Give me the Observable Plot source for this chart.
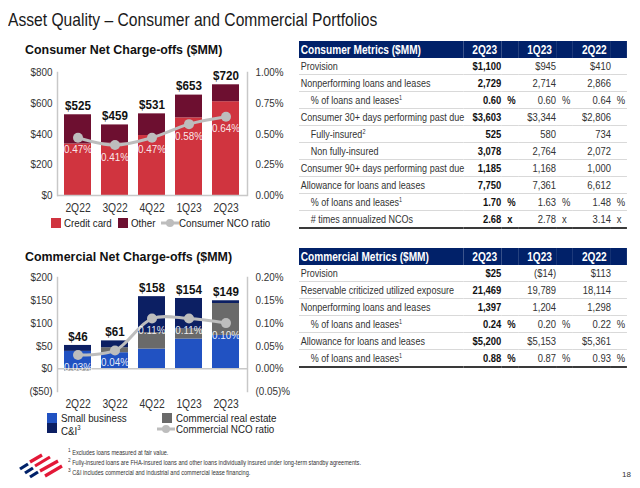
<!DOCTYPE html>
<html><head><meta charset="utf-8">
<script src="https://cdn.jsdelivr.net/npm/d3@7"></script>
<script src="https://cdn.jsdelivr.net/npm/@observablehq/plot@0.6"></script>
<style>
body{margin:0;width:640px;height:488px;position:relative;background:#fff;overflow:hidden;
 font-family:"Liberation Sans",Arial,sans-serif;color:#222}
.abs{position:absolute;white-space:nowrap}
.nar{transform:scaleX(0.85);transform-origin:left center}
.ctitle{font-weight:bold;font-size:13.5px;color:#111}
.leg{font-size:11.5px;color:#222;line-height:12px}
.sw{position:absolute;width:10px;height:10px}
.tbl{position:absolute;left:299px;width:389px;border-collapse:collapse;table-layout:fixed;font-size:11.2px;color:#333;
 transform:scaleX(0.843);transform-origin:left top}
.tbl td{padding:0;height:16px;border-bottom:1px solid #d9d9d9;white-space:nowrap;vertical-align:middle;overflow:visible}
.tbl tr.hd td{background:#012169;color:#fff;font-weight:bold;font-size:12px;height:17px;border-bottom:none}
.tbl tr.last td{border-bottom:2px solid #3a3a3a}
.tbl .lab{padding-left:2px;font-size:10.7px}
.tbl .sub{padding-left:14px;font-size:10.7px}
.tbl tr.hd td.lab{font-size:12px}
.tbl .v{text-align:right}
.tbl .hv{text-align:right;padding-right:5px}
.tbl .u{padding-left:7px}
.tbl .b{font-weight:bold;color:#111}
.tbl sup{font-size:6.5px;vertical-align:top;line-height:8px}
.fn{font-size:6.6px;color:#333;line-height:6.7px}
</style></head><body>
<div class="abs nar" style="left:8px;top:9px;font-size:18.5px;color:#1a1a1a;transform:scaleX(0.845)">Asset Quality – Consumer and Commercial Portfolios</div>

<div class="abs ctitle nar" style="left:25px;top:42px;transform:scaleX(0.92)">Consumer Net Charge-offs ($MM)</div>
<div class="abs ctitle nar" style="left:25px;top:249px;transform:scaleX(0.92)">Commercial Net Charge-offs ($MM)</div>

<div id="consumer" class="abs" style="left:0;top:62px"></div>
<div id="commercial" class="abs" style="left:0;top:262px"></div>

<div id="legend1"></div>
<div id="legend2"></div>

<table id="ctable" class="tbl" style="top:41px"></table>
<table id="mtable" class="tbl" style="top:248px"></table>

<svg class="abs" style="left:16px;top:453px" width="50" height="30" viewBox="0 0 50 30">
 <g stroke-linecap="butt" stroke-width="3.2" fill="none">
  <path d="M4 16 L12 11" stroke="#012169"/>
  <path d="M9 20 L17 15" stroke="#012169"/>
  <path d="M14 24 L22 19" stroke="#012169"/>
  <path d="M14 9 L26 2" stroke="#e31837"/>
  <path d="M19 13 L34 4" stroke="#e31837"/>
  <path d="M24 18 L42 8" stroke="#e31837"/>
  <path d="M29 23 L46 13" stroke="#e31837"/>
 </g>
</svg>
<div class="abs fn nar" style="left:68px;top:447px">
<div><sup>1</sup> Excludes loans measured at fair value.</div>
<div><sup>2</sup> Fully-insured loans are FHA-insured loans and other loans individually insured under long-term standby agreements.</div>
<div><sup>3</sup> C&amp;I includes commercial and industrial and commercial lease financing.</div>
</div>
<div class="abs" style="left:622px;top:470px;font-size:8px;color:#333">18</div>

<script>
// ---------- Chart data ----------
const quarters = ["2Q22","3Q22","4Q22","1Q23","2Q23"];

const creditCard = [335, 340, 390, 505, 610];
const consumerOther = [190, 119, 141, 148, 110];
const consumerRatio = [0.47, 0.41, 0.47, 0.58, 0.64];
const consumerSeries = ["Credit card", "Other"];
const consumerTicks = [0, 200, 400, 600, 800];

const smallBusiness = [38, 35, 43, 65, 73];
const commercialRealEstate = [-5, 11, 36, 22, 70];
const cAndI = [13, 15, 79, 67, 6];
const commercialRatio = [0.03, 0.04, 0.11, 0.11, 0.10];
const commercialSeries = ["Small business", "Commercial real estate", "C&I"];
const commercialTicks = [-50, 0, 50, 100, 150, 200];

// ---------- Table data ----------
const consumerMetricLabels = ["Provision","Nonperforming loans and leases","% of loans and leases","Consumer 30+ days performing past due","Fully-insured","Non fully-insured","Consumer 90+ days performing past due","Allowance for loans and leases","% of loans and leases","# times annualized NCOs"];
const consumerMetricNotes = [0,0,1,0,2,0,0,0,1,0];
const consumerMetricSub = [0,0,1,0,1,1,0,0,1,1];
const consumer2Q23 = ["$1,100","2,729","0.60","$3,603","525","3,078","1,185","7,750","1.70","2.68"];
const consumer1Q23 = ["$945","2,714","0.60","$3,344","580","2,764","1,168","7,361","1.63","2.78"];
const consumer2Q22 = ["$410","2,866","0.64","$2,806","734","2,072","1,000","6,612","1.48","3.14"];
const consumerUnits = ["","","%","","","","","","%","x"];

const commercialMetricLabels = ["Provision","Reservable criticized utilized exposure","Nonperforming loans and leases","% of loans and leases","Allowance for loans and leases","% of loans and leases"];
const commercialMetricNotes = [0,0,0,1,0,1];
const commercialMetricSub = [0,0,0,1,0,1];
const commercial2Q23 = ["$25","21,469","1,397","0.24","$5,200","0.88"];
const commercial1Q23 = ["($14)","19,789","1,204","0.20","$5,153","0.87"];
const commercial2Q22 = ["$113","18,114","1,298","0.22","$5,361","0.93"];
const commercialUnits = ["","","","%","","%"];
const tableColumns = ["2Q23","1Q23","2Q22"];

const FONT = '"Liberation Sans",Arial,sans-serif';

function chart({series, names, colors, ratio, ratioScale, yDomain, ticks, leftFmt, rightFmt, height, marginTop, marginBottom}) {
  const rows = series.flatMap((arr, s) => quarters.map((q, i) => ({q, name: names[s], v: arr[i]})));
  const tops = quarters.map((q, i) => ({
    q,
    top: d3.sum(series, a => Math.max(0, a[i])),
    total: d3.sum(series, a => a[i])
  }));
  const rr = quarters.map((q, i) => ({q, r: ratio[i]}));
  return Plot.plot({
    width: 290, height, marginLeft: 57, marginRight: 43, marginTop, marginBottom,
    x: {domain: quarters, paddingInner: 0.27, paddingOuter: 0.14},
    y: {domain: yDomain},
    color: {domain: names, range: colors},
    style: {fontFamily: FONT, fontSize: "11.5px", color: "#333", background: "transparent", overflow: "visible"},
    marks: [
      Plot.barY(rows, {x: "q", y: "v", fill: "name"}),
      Plot.ruleY([0], {stroke: "#c8c8c8", strokeWidth: 1.5}),
      Plot.frame({anchor: "left", stroke: "#c8c8c8", strokeWidth: 1.5}),
      Plot.frame({anchor: "right", stroke: "#c8c8c8", strokeWidth: 1.5}),
      Plot.line(rr, {x: "q", y: d => d.r * ratioScale, curve: "catmull-rom", stroke: "#bdbdbd", strokeWidth: 3}),
      Plot.dot(rr, {x: "q", y: d => d.r * ratioScale, r: 5, fill: "#bdbdbd"}),
      Plot.text(rr, {x: "q", y: d => d.r * ratioScale, text: d => d.r.toFixed(2) + "%", dy: 12, fill: "#fff", fillOpacity: 0.9, fontSize: 11.5}),
      Plot.text(tops, {x: "q", y: "top", text: d => "$" + d.total, dy: -9, fontSize: 13.5, fontWeight: "bold", fill: "#111"}),
      Plot.axisY({ticks, tickFormat: leftFmt, tickSize: 0, tickPadding: 5, label: null}),
      Plot.axisY({anchor: "right", ticks, tickFormat: rightFmt, tickSize: 0, tickPadding: 8, label: null}),
      Plot.axisX({tickSize: 0, tickPadding: 8, label: null, fontSize: 12})
    ]
  });
}

// condense chart texts horizontally (about their anchor) to imitate the narrow slide typeface
function condense(svg, k) {
  svg.querySelectorAll("text").forEach(t => {
    const x = +(t.getAttribute("x") || 0);
    const old = t.getAttribute("transform") || "";
    if (x) t.setAttribute("x", 0);
    t.setAttribute("transform", `${old} translate(${x},0) scale(${k},1)`);
  });
}

const pct = (v) => v < 0 ? "(" + Math.abs(v).toFixed(2) + ")%" : v.toFixed(2) + "%";
const dollars = (d) => d < 0 ? "($" + (-d) + ")" : "$" + d;

const c1 = chart({
  series: [creditCard, consumerOther], names: consumerSeries, colors: ["#d0343f", "#6d0f30"],
  ratio: consumerRatio, ratioScale: 800, yDomain: [0, 800], ticks: consumerTicks,
  leftFmt: dollars, rightFmt: d => pct(d / 800),
  height: 158, marginTop: 10, marginBottom: 25
});
document.getElementById("consumer").append(c1);
condense(c1, 0.86);

const c2 = chart({
  series: [smallBusiness, commercialRealEstate, cAndI], names: commercialSeries, colors: ["#2152c2", "#6a6a6a", "#0c1f63"],
  ratio: commercialRatio, ratioScale: 1000, yDomain: [-50, 200], ticks: commercialTicks,
  leftFmt: dollars, rightFmt: d => pct(d / 1000),
  height: 160, marginTop: 15, marginBottom: 31
});
document.getElementById("commercial").append(c2);
condense(c2, 0.86);

// ---------- Legends ----------
function lineSwatch(left, top) {
  return `<svg class="abs" style="left:${left}px;top:${top}px" width="18" height="10"><line x1="0" y1="5" x2="18" y2="5" stroke="#bdbdbd" stroke-width="3"/><circle cx="9" cy="5" r="4" fill="#bdbdbd"/></svg>`;
}
document.getElementById("legend1").innerHTML =
  `<div class="sw" style="left:51px;top:218px;background:#d0343f"></div><div class="abs leg nar" style="left:64px;top:217px">${consumerSeries[0]}</div>` +
  `<div class="sw" style="left:118px;top:218px;background:#6d0f30"></div><div class="abs leg nar" style="left:131px;top:217px">${consumerSeries[1]}</div>` +
  lineSwatch(161, 218) + `<div class="abs leg nar" style="left:179px;top:217px">Consumer NCO ratio</div>`;
document.getElementById("legend2").innerHTML =
  `<div class="sw" style="left:47px;top:413px;background:#2152c2"></div><div class="abs leg nar" style="left:61px;top:412px">${commercialSeries[0]}</div>` +
  `<div class="sw" style="left:47px;top:423px;background:#0c1f63"></div><div class="abs leg nar" style="left:61px;top:422px">${commercialSeries[2]}<sup style="font-size:7px">3</sup></div>` +
  `<div class="sw" style="left:162px;top:413px;background:#6a6a6a"></div><div class="abs leg nar" style="left:176px;top:412px">${commercialSeries[1]}</div>` +
  lineSwatch(157, 424) + `<div class="abs leg nar" style="left:176px;top:423px">Commercial NCO ratio</div>`;

// ---------- Tables ----------
function buildTable(id, title, labels, notes, sub, v1, v2, v3, units) {
  let h = `<colgroup><col style="width:195px"><col style="width:45px"><col style="width:20px"><col style="width:45px"><col style="width:19px"><col style="width:46px"><col style="width:19px"></colgroup>`;
  h += `<tr class="hd"><td class="lab">${title}</td><td class="hv">${tableColumns[0]}</td><td></td><td class="hv">${tableColumns[1]}</td><td></td><td class="hv">${tableColumns[2]}</td><td></td></tr>`;
  labels.forEach((l, i) => {
    const cls = i === labels.length - 1 ? ' class="last"' : "";
    const note = notes[i] ? `<sup>${notes[i]}</sup>` : "";
    h += `<tr${cls}><td class="${sub[i] ? "sub" : "lab"}">${l}${note}</td>` +
      `<td class="v b">${v1[i]}</td><td class="u b">${units[i]}</td>` +
      `<td class="v">${v2[i]}</td><td class="u">${units[i]}</td>` +
      `<td class="v">${v3[i]}</td><td class="u">${units[i]}</td></tr>`;
  });
  document.getElementById(id).innerHTML = h;
}
buildTable("ctable", "Consumer Metrics ($MM)", consumerMetricLabels, consumerMetricNotes, consumerMetricSub, consumer2Q23, consumer1Q23, consumer2Q22, consumerUnits);
buildTable("mtable", "Commercial Metrics ($MM)", commercialMetricLabels, commercialMetricNotes, commercialMetricSub, commercial2Q23, commercial1Q23, commercial2Q22, commercialUnits);
</script>
</body></html>
